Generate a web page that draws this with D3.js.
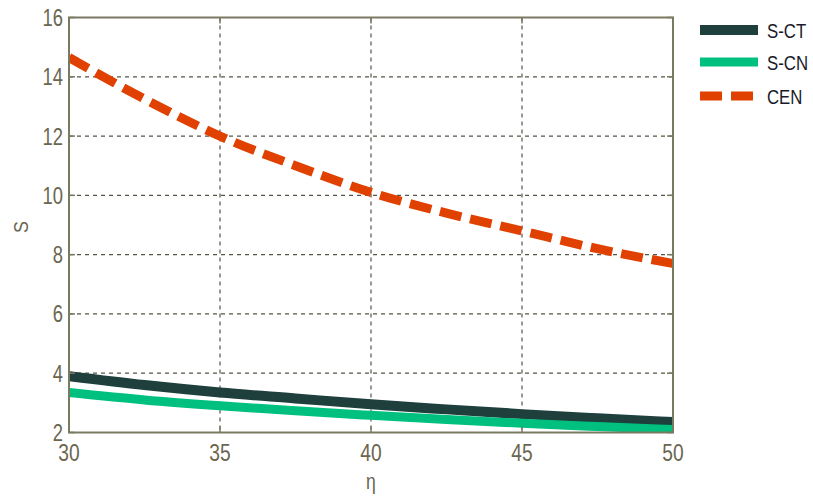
<!DOCTYPE html>
<html>
<head>
<meta charset="utf-8">
<script src="https://cdn.jsdelivr.net/npm/d3@7"></script>
<style>
  body { margin: 0; background: #fff; }
  text { font-family: "Liberation Sans", Arial, sans-serif; }
</style>
</head>
<body>
<svg id="chart" width="813" height="498"></svg>
<script>
// ---- data ----
var etaValues = [30, 32.5, 35, 37.5, 40, 42.5, 45, 47.5, 50];
var sct = [3.9, 3.6, 3.35, 3.15, 2.95, 2.78, 2.62, 2.48, 2.35];
var scn = [3.35, 3.1, 2.9, 2.73, 2.58, 2.44, 2.31, 2.2, 2.1];
var cen = [14.65, 13.25, 12.0, 11.0, 10.1, 9.4, 8.8, 8.2, 7.7];

var xTicks = [30, 35, 40, 45, 50];
var yTicks = [2, 4, 6, 8, 10, 12, 14, 16];

var series = [
    {name: "S-CT", values: sct, color: "#1e3f3c", width: 10, dash: null},
    {name: "S-CN", values: scn, color: "#00c07f", width: 9, dash: null},
    {name: "CEN", values: cen, color: "#e04000", width: 9, dash: "22,9"}
];

var pLeft = 69, pRight = 673, pTop = 17.5, pBottom = 432.5;
var axisColor = "#7a7a62";
var textColor = "#6b6650";

var svg = d3.select("#chart");

var x = d3.scaleLinear().domain([30, 50]).range([pLeft, pRight]);
var y = d3.scaleLinear().domain([2, 16]).range([pBottom, pTop]);

// texte étroit (la police d'origine est condensée)
function narrowText(px, py, txt, size, anchor, color) {
    return svg.append("text")
        .attr("transform", "translate(" + px + "," + py + ") scale(0.8,1)")
        .attr("text-anchor", anchor)
        .attr("font-size", size)
        .attr("fill", color)
        .text(txt);
}

// grid
svg.append("g").selectAll("line").data(xTicks.slice(1, -1)).enter().append("line")
    .attr("x1", function(d) { return x(d); }).attr("x2", function(d) { return x(d); })
    .attr("y1", pTop).attr("y2", pBottom)
    .attr("stroke", "#55554a").attr("stroke-width", 1.2).attr("stroke-dasharray", "4,4");
svg.append("g").selectAll("line").data(yTicks.slice(1, -1)).enter().append("line")
    .attr("x1", pLeft).attr("x2", pRight)
    .attr("y1", function(d) { return y(d); }).attr("y2", function(d) { return y(d); })
    .attr("stroke", "#55554a").attr("stroke-width", 1.2).attr("stroke-dasharray", "4,4");

// lines
svg.append("clipPath").attr("id", "clip").append("rect")
    .attr("x", pLeft).attr("y", pTop).attr("width", pRight - pLeft).attr("height", pBottom - pTop);

var line = d3.line()
    .x(function(d, i) { return x(etaValues[i]); })
    .y(function(d) { return y(d); })
    .curve(d3.curveMonotoneX);

for (let s of series) {
    svg.append("path")
        .attr("d", line(s.values))
        .attr("fill", "none")
        .attr("stroke", s.color)
        .attr("stroke-width", s.width)
        .attr("stroke-dasharray", s.dash)
        .attr("clip-path", "url(#clip)");
}

// frame
svg.append("rect")
    .attr("x", pLeft).attr("y", pTop).attr("width", pRight - pLeft).attr("height", pBottom - pTop)
    .attr("fill", "none").attr("stroke", axisColor).attr("stroke-width", 2);

// inner tick marks
var tickLen = 6;
for (let t of yTicks) {
    svg.append("line").attr("x1", pLeft).attr("x2", pLeft + tickLen).attr("y1", y(t)).attr("y2", y(t))
        .attr("stroke", axisColor).attr("stroke-width", 1.5);
    svg.append("line").attr("x1", pRight).attr("x2", pRight - tickLen).attr("y1", y(t)).attr("y2", y(t))
        .attr("stroke", axisColor).attr("stroke-width", 1.5);
}
for (let t of xTicks) {
    svg.append("line").attr("x1", x(t)).attr("x2", x(t)).attr("y1", pBottom).attr("y2", pBottom - tickLen)
        .attr("stroke", axisColor).attr("stroke-width", 1.5);
    svg.append("line").attr("x1", x(t)).attr("x2", x(t)).attr("y1", pTop).attr("y2", pTop + tickLen)
        .attr("stroke", axisColor).attr("stroke-width", 1.5);
}

// tick labels
for (let t of yTicks) {
    narrowText(63, y(t) + 8.5, t, 23, "end", textColor);
}
for (let t of xTicks) {
    narrowText(x(t), 461, t, 24, "middle", textColor);
}

// axis titles
narrowText(371, 489, "η", 22, "middle", textColor);
svg.append("text").attr("transform", "translate(28,227) rotate(-90) scale(0.85,1)").attr("text-anchor", "middle")
    .attr("font-size", 21).attr("fill", textColor).text("S");

// legend
var legY = [30, 62, 96];
series.forEach(function(s, i) {
    svg.append("line").attr("x1", 700).attr("x2", 758).attr("y1", legY[i]).attr("y2", legY[i])
        .attr("stroke", s.color).attr("stroke-width", s.width)
        .attr("stroke-dasharray", s.dash ? "22,9" : null);
    narrowText(767, legY[i] + 7.5, s.name, 21, "start", "#1a1a2a");
});
</script>
</body>
</html>
